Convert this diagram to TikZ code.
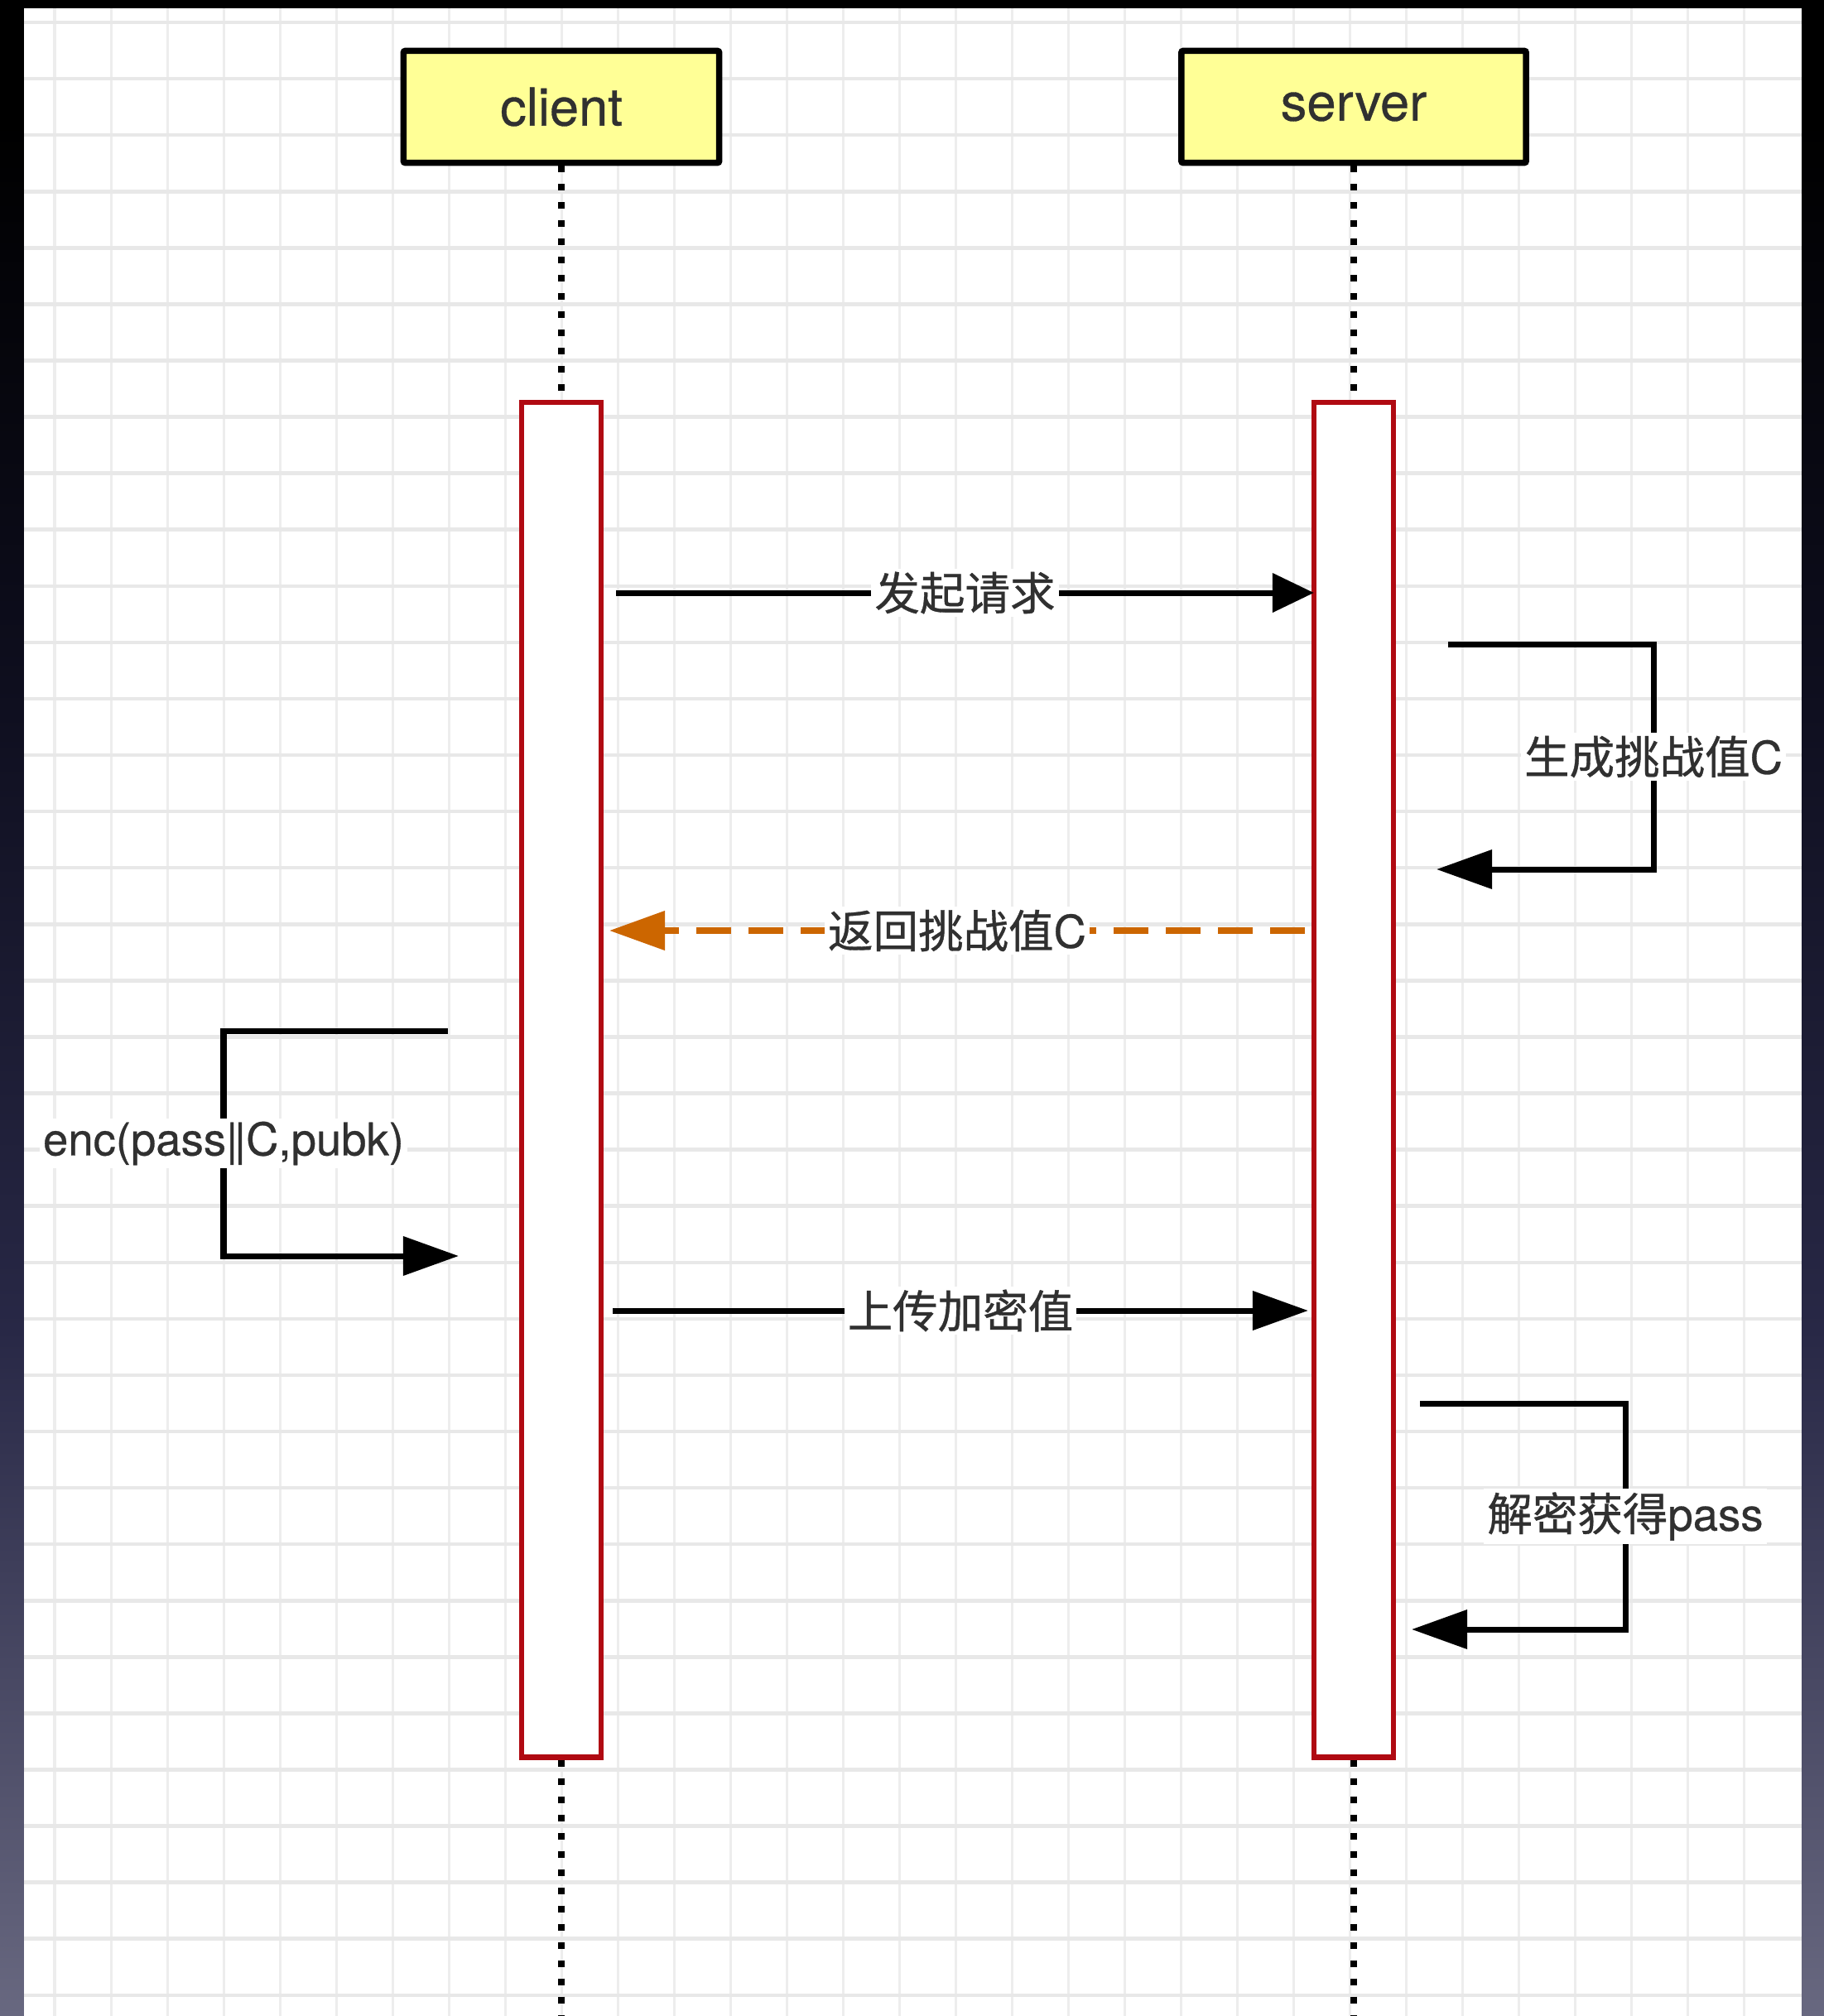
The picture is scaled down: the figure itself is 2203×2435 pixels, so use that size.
\documentclass[tikz,border=0pt]{standalone}
\usepackage{fontspec}
\setmainfont{TeX Gyre Heros}[FakeBold=0.5]
\newfontfamily\cjk{Noto Sans CJK SC}[FakeBold=0.7]
\usetikzlibrary{arrows.meta}

\definecolor{headfill}{RGB}{255,255,150}
\definecolor{actred}{RGB}{176,10,18}
\definecolor{retorange}{RGB}{204,102,0}
\definecolor{labeltext}{RGB}{48,48,48}
\definecolor{gridh}{RGB}{232,232,232}
\definecolor{gridv}{RGB}{237,237,237}
\definecolor{deskbottom}{RGB}{104,104,128}
\definecolor{deskmid}{RGB}{40,40,70}
\definecolor{deskdark}{RGB}{14,14,30}

% desktop backdrop: black at the top fading to grey-violet at the bottom
\pgfdeclareverticalshading{desk}{100bp}{%
  color(0bp)=(deskbottom); color(25bp)=(deskbottom);
  color(42bp)=(deskmid); color(58bp)=(deskdark);
  color(72bp)=(black); color(100bp)=(black)}

\tikzset{
  headbox/.style={draw=black, line width=0.075cm, fill=headfill,
    minimum height=1.35cm, rounded corners=0.02cm, inner sep=0pt,
    text=labeltext, font={\fontsize{18pt}{21pt}\selectfont}},
  actbox/.style={draw=actred, line width=0.06cm, fill=white,
    minimum width=0.95cm, minimum height=16.36cm, inner sep=0pt},
  lifeline/.style={line width=0.08cm, dash pattern=on 0.08cm off 0.14cm},
  msg/.style={line width=0.07cm, -{Triangle[length=0.67cm,width=0.46cm]}},
  msgshort/.style={line width=0.07cm, -{Triangle[length=0.5cm,width=0.46cm]}},
  reply/.style={line width=0.075cm, draw=retorange, dash pattern=on 0.42cm off 0.21cm,
    -{Triangle[length=0.67cm,width=0.46cm,fill=retorange]}},
  msglabel/.style={fill=white, text=labeltext, inner sep=0.04cm,
    font={\fontsize{15.5pt}{18pt}\selectfont}},
}

\begin{document}
\begin{tikzpicture}[x=0.01cm, y=-0.01cm]
\useasboundingbox (0,0) rectangle (2203,2435);

% backdrop and white canvas
\shade[shading=desk] (0,0) rectangle (2203,2435);
\fill[white] (29,10) rectangle (2176,2435);

% background grid
\begin{scope}
  \clip (29,10) rectangle (2176,2435);
  \foreach \k in {0,...,30}
    \draw[gridv, line width=0.03cm] ({66+68*\k},10) -- ({66+68*\k},2435);
  \foreach \k in {0,...,35}
    \draw[gridh, line width=0.045cm] (29,{27+68.08*\k}) -- (2176,{27+68.08*\k});
\end{scope}

% participants
\node[headbox, minimum width=3.81cm] (client) at (678,129) {client};
\node[headbox, minimum width=4.16cm] (server) at (1635,129) {server};

% activation bars
\node[actbox] (cact) at (678,1304) {};
\node[actbox] (sact) at (1635,1304) {};

% lifelines
\coordinate (cbot) at (678,2445);
\coordinate (sbot) at (1635,2445);
\draw[lifeline] (client.south) -- (cact.north);
\draw[lifeline] (server.south) -- (sact.north);
\draw[lifeline] (cact.south) -- (cbot);
\draw[lifeline] (sact.south) -- (sbot);

% request
\coordinate (m1a) at (744,716);
\coordinate (m1b) at (1587,716);
\draw[msgshort] (m1a) -- node[msglabel] (l1) {\cjk 发起请求} (m1b);

% server generates the challenge
\coordinate (s1a) at (1749,778);
\coordinate (s1b) at (1997,778);
\coordinate (s1c) at (1997,1050);
\coordinate (s1d) at (1735,1050);
\draw[msg] (s1a) -- (s1b) -- node[msglabel] (l2) {{\cjk 生成挑战值}C} (s1c) -- (s1d);

% challenge returned
\coordinate (r1a) at (1576,1124);
\coordinate (r1b) at (736,1124);
\draw[reply] (r1a) -- node[msglabel] (l3) {{\cjk 返回挑战值}C} (r1b);

% client encrypts
\coordinate (c1a) at (541,1245);
\coordinate (c1b) at (270,1245);
\coordinate (c1c) at (270,1517);
\coordinate (c1d) at (554,1517);
\draw[msg] (c1a) -- (c1b) -- node[msglabel] (l4) {enc(pass|\kern-0.08em|C,pubk)} (c1c) -- (c1d);

% upload
\coordinate (m2a) at (740,1583);
\coordinate (m2b) at (1580,1583);
\draw[msg] (m2a) -- node[msglabel] (l5) {\cjk 上传加密值} (m2b);

% server decrypts
\coordinate (s2a) at (1715,1695);
\coordinate (s2b) at (1963,1695);
\coordinate (s2c) at (1963,1968);
\coordinate (s2d) at (1705,1968);
\draw[msg] (s2a) -- (s2b) -- node[msglabel] (l6) {{\cjk 解密获得}pass} (s2c) -- (s2d);
\end{tikzpicture}
\end{document}
